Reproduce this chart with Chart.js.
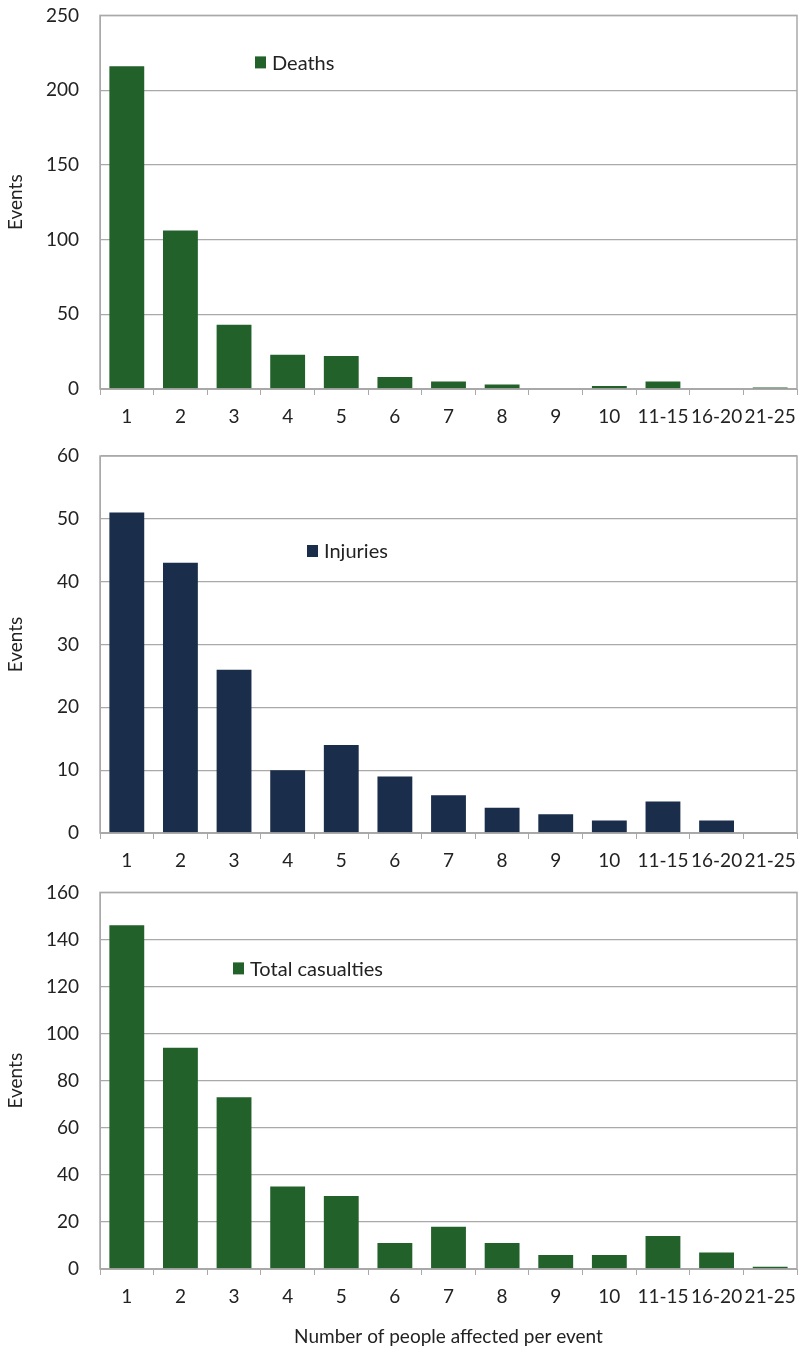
<!DOCTYPE html>
<html>
<head>
<meta charset="utf-8">
<script src="https://cdn.jsdelivr.net/npm/chart.js@4.4.1/dist/chart.umd.min.js"></script>
<style>
  body { margin: 0; background: #fff; }
  .caja { position: relative; width: 811px; }
</style>
</head>
<body>
<div class="caja" style="height:438px"><canvas id="grafica1"></canvas></div>
<div class="caja" style="height:439px"><canvas id="grafica2"></canvas></div>
<div class="caja" style="height:475px"><canvas id="grafica3"></canvas></div>
<script>
// Categorias: personas afectadas por evento
var categorias = ['1', '2', '3', '4', '5', '6', '7', '8', '9', '10', '11-15', '16-20', '21-25'];

// Numero de eventos por categoria
var muertes = [216, 106, 43, 23, 22, 8, 5, 3, 0, 2, 5, 0, 1];
var heridos = [51, 43, 26, 10, 14, 9, 6, 4, 3, 2, 5, 2, 0];
var totales = [146, 94, 73, 35, 31, 11, 18, 11, 6, 6, 14, 7, 1];

// Ejes Y (maximo y paso)
var ejeMuertes = [250, 50];
var ejeHeridos = [60, 10];
var ejeTotales = [160, 20];

var verde = '#22612a';
var azul = '#1a2d4b';
var gris = '#a9a9a9';
var texto = '#222222';

Chart.defaults.font.family = 'Lato';
Chart.defaults.color = texto;

// Leyenda dentro del area de la grafica
var leyendaInterna = {
  id: 'leyendaInterna',
  afterDraw: function (chart) {
    var pos = chart.options.plugins.leyendaInterna;
    var ca = chart.chartArea;
    var ds = chart.data.datasets[0];
    var ctx = chart.ctx;
    var x = ca.left + pos.x;
    var y = ca.top + pos.y;
    ctx.save();
    ctx.fillStyle = ds.backgroundColor;
    ctx.fillRect(x, y - 6, 11, 12);
    ctx.fillStyle = texto;
    ctx.font = '20px Lato';
    ctx.textBaseline = 'middle';
    ctx.fillText(ds.label, x + 17, y + 1);
    ctx.restore();
  }
};

// Marco gris alrededor del area
var marco = {
  id: 'marco',
  afterDatasetsDraw: function (chart) {
    var ca = chart.chartArea;
    var ctx = chart.ctx;
    ctx.save();
    ctx.strokeStyle = gris;
    ctx.lineWidth = 1.5;
    ctx.strokeRect(ca.left, ca.top, ca.right - ca.left, ca.bottom - ca.top);
    ctx.restore();
  }
};

function crearGrafica(id, etiqueta, valores, color, eje, leyX, leyY, arriba, altoX, tituloX) {
  var ctx = document.getElementById(id).getContext('2d');
  return new Chart(ctx, {
    type: 'bar',
    data: {
      labels: categorias,
      datasets: [{
        label: etiqueta,
        data: valores,
        backgroundColor: color,
        borderWidth: 0,
        barPercentage: 0.65,
        categoryPercentage: 1
      }]
    },
    options: {
      responsive: true,
      maintainAspectRatio: false,
      animation: false,
      layout: { padding: { top: arriba, right: 14, bottom: 0, left: 0 } },
      plugins: {
        legend: { display: false },
        tooltip: { enabled: false },
        leyendaInterna: { x: leyX, y: leyY }
      },
      scales: {
        x: {
          grid: { offset: true, drawOnChartArea: false, drawTicks: true, tickLength: 6, color: gris },
          border: { display: true, color: gris },
          ticks: { padding: 10, maxRotation: 0, minRotation: 0, autoSkip: false, font: { size: 19 }, color: texto },
          title: { display: tituloX != null, text: tituloX, font: { size: 19 }, color: texto },
          afterFit: function (scale) { scale.height = altoX; }
        },
        y: {
          min: 0,
          max: eje[0],
          // marcas invisibles para separar las etiquetas sin agrandar el margen superior
          grid: { color: gris, drawTicks: true, tickLength: 17, tickColor: 'rgba(0,0,0,0)', lineWidth: 1.2 },
          border: { display: true, color: gris },
          ticks: { stepSize: eje[1], padding: 4, font: { size: 19 }, color: texto },
          title: { display: true, text: 'Events', font: { size: 19 }, color: texto },
          afterFit: function (scale) { scale.width = 100; }
        }
      }
    },
    plugins: [leyendaInterna, marco]
  });
}

crearGrafica('grafica1', 'Deaths', muertes, verde, ejeMuertes, 155, 47, 15, 49, null);
crearGrafica('grafica2', 'Injuries', heridos, azul, ejeHeridos, 207, 95, 18, 44, null);
crearGrafica('grafica3', 'Total casualties', totales, verde, ejeTotales, 133, 76, 15, 83, 'Number of people affected per event');
</script>
</body>
</html>
